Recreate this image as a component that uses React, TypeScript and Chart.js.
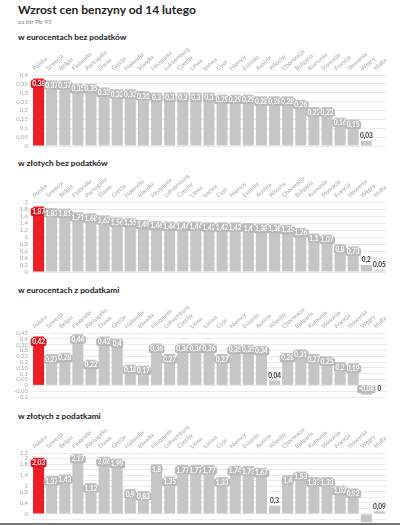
import React, { useEffect, useRef } from 'react';
import { Chart, registerables } from 'chart.js';
Chart.register(...registerables);

const categories = ['Polska','Szwecja','Belgia','Finlandia','Portugalia','Dania','Grecja','Holandia','Irlandia','Hiszpania','Luksemburg','Czechy','Litwa','Łotwa','Cypr','Niemcy','Estonia','Austria','Włochy','Chorwacja','Bułgaria','Rumunia','Słowacja','Francja','Słowenia','Węgry','Malta'];

const euroNoTax = [0.38,0.37,0.37,0.35,0.35,0.33,0.32,0.32,0.31,0.3,0.3,0.3,0.3,0.3,0.29,0.29,0.29,0.28,0.28,0.28,0.26,0.22,0.22,0.16,0.15,0.03,null];
const plnNoTax = [1.87,1.83,1.81,1.71,1.68,1.62,1.56,1.55,1.49,1.46,1.44,1.44,1.44,1.42,1.42,1.42,1.4,1.38,1.38,1.35,1.26,1.1,1.07,0.8,0.73,0.2,0.05];
const euroTax = [0.42,0.27,0.28,0.44,0.22,0.42,0.4,0.18,0.17,0.36,0.27,0.36,0.36,0.36,0.27,0.35,0.35,0.34,0.04,0.28,0.31,0.27,0.25,0.2,0.19,-0.08,0];
const plnTax = [2.03,1.37,1.43,2.17,1.12,2.06,1.99,0.9,0.83,1.8,1.35,1.77,1.77,1.77,1.33,1.74,1.73,1.67,0.3,1.4,1.53,1.33,1.33,1.02,0.92,-0.3,0.09];

const title = 'Wzrost cen benzyny od 14 lutego';
const subtitle = 'za litr Pb 95';
const panelTitles = ['w eurocentach bez podatków','w złotych bez podatków','w eurocentach z podatkami','w złotych z podatkami'];
const panel4TickLabels = [2.2, 2, 1.8, 1.4, 1, 0.8, 0.4, 0, -0.4];

const RED = '#ee1c25';
const GREY = '#c6c6c6';
const FONT = 'Lato, "Noto Sans", sans-serif';

const fmt = (v: number) => Number(v.toFixed(2)).toString().replace('.', ',');

const labelPlugin = {
  id: 'barLabels',
  afterDatasetsDraw(chart: any) {
    const ctx = chart.ctx;
    const meta = chart.getDatasetMeta(0);
    const data = chart.data.datasets[0].data;
    const zeroY = chart.scales.y.getPixelForValue(0);
    ctx.save();
    ctx.font = `bold 6.5px ${FONT}`;
    ctx.textAlign = 'center';
    ctx.textBaseline = 'middle';
    meta.data.forEach((bar: any, i: number) => {
      const v = data[i];
      if (v === null || v === undefined) return;
      const h = zeroY - bar.y;
      const txt = fmt(v);
      const x = bar.x;
      if (Math.abs(h) >= 9) {
        const y = v > 0 ? bar.y + 5.5 : bar.y - 5.5;
        const w = ctx.measureText(txt).width + 3;
        ctx.beginPath();
        (ctx as any).roundRect(x - w / 2, y - 4, w, 8, 2);
        ctx.fillStyle = i === 0 ? '#e0121b' : '#b9b9b9';
        ctx.fill();
        ctx.fillStyle = '#ffffff';
        ctx.fillText(txt, x, y);
      } else {
        const y = v > 0 ? bar.y - 5 : (v === 0 ? zeroY + 4 : bar.y + 5);
        ctx.fillStyle = '#333333';
        ctx.fillText(txt, x, y);
      }
    });
    ctx.restore();
  },
};

type PanelProps = {
  data: (number | null)[];
  min: number;
  max: number;
  step: number;
  plotTop: number;
  plotBottom: number;
  showTick?: (v: number) => boolean;
};

const AXIS_H = 27;

function Panel({ data, min, max, step, plotTop, plotBottom, showTick }: PanelProps) {
  const ref = useRef<HTMLCanvasElement | null>(null);
  const canvasTop = plotTop - AXIS_H;
  const height = plotBottom - canvasTop + 10;
  useEffect(() => {
    if (!ref.current) return;
    const chart = new Chart(ref.current, {
      type: 'bar',
      data: {
        labels: categories,
        datasets: [{
          data: data as any,
          backgroundColor: categories.map((_, i) => (i === 0 ? RED : GREY)),
          borderWidth: 0,
          categoryPercentage: 0.84,
          barPercentage: 1,
        }],
      },
      options: {
        animation: false,
        responsive: false,
        maintainAspectRatio: false,
        layout: { padding: { left: 0, right: 14, top: 0, bottom: 10 } },
        plugins: { legend: { display: false }, tooltip: { enabled: false }, title: { display: false } },
        scales: {
          x: {
            position: 'top',
            grid: { display: false, drawTicks: false },
            border: { display: false },
            ticks: {
              autoSkip: false,
              maxRotation: 42,
              minRotation: 42,
              padding: 3,
              color: '#a8a8a8',
              font: { family: FONT, size: 6 },
            },
            afterFit: (s: any) => { s.height = AXIS_H; },
          },
          y: {
            min, max,
            grid: { color: '#ebebeb', lineWidth: 1, drawTicks: false },
            border: { display: false },
            ticks: {
              stepSize: step,
              autoSkip: false,
              padding: 4,
              color: '#a8a8a8',
              font: { family: FONT, size: 6 },
              callback: (v: any) => {
                const n = Number(Number(v).toFixed(2));
                if (showTick && !showTick(n)) return '';
                return fmt(n);
              },
            },
            afterFit: (s: any) => { s.width = 32; },
          },
        },
      },
      plugins: [labelPlugin],
    });
    return () => chart.destroy();
  }, []);
  return (
    <canvas
      ref={ref}
      width={400}
      height={height}
      style={{ position: 'absolute', left: 0, top: canvasTop, width: 400, height }}
    />
  );
}

const textBase: React.CSSProperties = { position: 'absolute', left: 18, margin: 0, fontFamily: FONT, whiteSpace: 'nowrap', lineHeight: 1 };

export default function App() {
  return (
    <div style={{ position: 'absolute', left: 0, top: 0, width: 400, height: 525, overflow: 'hidden', background: '#fff' }}>
      <div style={{ ...textBase, top: 4, fontSize: 12, fontWeight: 700, color: '#222' }}>{title}</div>
      <div style={{ ...textBase, top: 19, fontSize: 6.5, color: '#888' }}>{subtitle}</div>
      <div style={{ ...textBase, top: 33, fontSize: 8.3, fontWeight: 700, color: '#222' }}>{panelTitles[0]}</div>
      <div style={{ ...textBase, top: 159, fontSize: 8.3, fontWeight: 700, color: '#222' }}>{panelTitles[1]}</div>
      <div style={{ ...textBase, top: 286, fontSize: 8.3, fontWeight: 700, color: '#222' }}>{panelTitles[2]}</div>
      <div style={{ ...textBase, top: 412, fontSize: 8.3, fontWeight: 700, color: '#222' }}>{panelTitles[3]}</div>
      <Panel data={euroNoTax} min={0} max={0.4} step={0.05} plotTop={75} plotBottom={146} />
      <Panel data={plnNoTax} min={0} max={2} step={0.2} plotTop={202} plotBottom={272} />
      <Panel data={euroTax} min={-0.1} max={0.45} step={0.05} plotTop={333} plotBottom={397} />
      <Panel data={plnTax} min={-0.4} max={2.2} step={0.2} plotTop={453} plotBottom={525}
        showTick={(v) => panel4TickLabels.some((t) => Math.abs(t - v) < 1e-6)} />
      <div style={{ position: 'absolute', left: 0, top: 523, width: 400, height: 2, background: '#777' }} />
    </div>
  );
}
